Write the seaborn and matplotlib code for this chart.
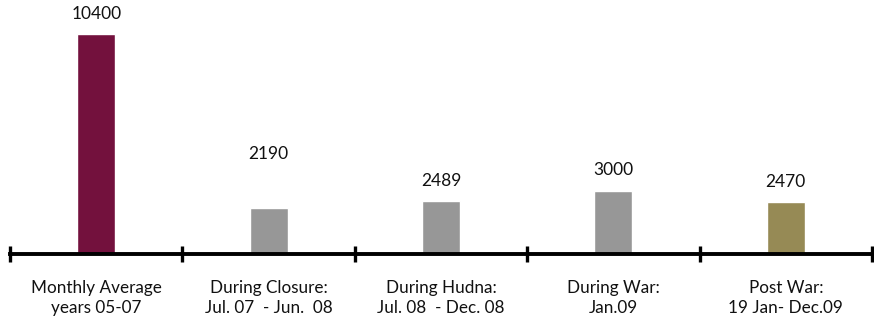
import matplotlib
matplotlib.use("Agg")
import matplotlib.pyplot as plt
import seaborn as sns
import pandas as pd

# Monthly values per period
periods = [
    "Monthly Average\nyears 05-07",
    "During Closure:\nJul. 07  - Jun.  08",
    "During Hudna:\nJul. 08  - Dec. 08",
    "During War:\nJan.09",
    "Post War:\n19 Jan- Dec.09",
]
values = [10400, 2190, 2489, 3000, 2470]
bar_colors = ["#73113D", "#979797", "#979797", "#979797", "#968A55"]
label_offsets = [950, 2550, 950, 950, 950]

sns.set_theme(style="white")
plt.rcParams["font.family"] = ["Lato", "DejaVu Sans"]

df = pd.DataFrame({"period": periods, "value": values})

fig = plt.figure(figsize=(8.74, 3.2), dpi=100)
ax = fig.add_axes([10 / 874, 66 / 320, 862 / 874, 254 / 320])

sns.barplot(data=df, x="period", y="value", hue="period", palette=bar_colors,
            width=0.22, legend=False, ax=ax, saturation=1)

for i, (v, off) in enumerate(zip(values, label_offsets)):
    ax.text(i, v + off, str(v), ha="center", va="center", fontsize=12.5, color="#111111")

ax.set_xlim(-0.5, len(values) - 0.5)
ax.set_ylim(0, 10400 * 254 / 220)
ax.set_xlabel("")
ax.set_ylabel("")
ax.set_yticks([])

for side in ["top", "right", "left"]:
    ax.spines[side].set_visible(False)
ax.spines["bottom"].set_linewidth(2.8)
ax.spines["bottom"].set_color("black")

ax.set_xticks(range(len(periods)))
ax.set_xticklabels(periods, fontsize=12.3, color="#111111", linespacing=1.25)
ax.tick_params(axis="x", which="major", length=0, pad=19)
ax.set_xticks([i - 0.5 for i in range(len(periods) + 1)], minor=True)
ax.tick_params(axis="x", which="minor", bottom=True, length=11, width=2.4,
               direction="inout", color="black")

fig.savefig("out.png", dpi=100)
